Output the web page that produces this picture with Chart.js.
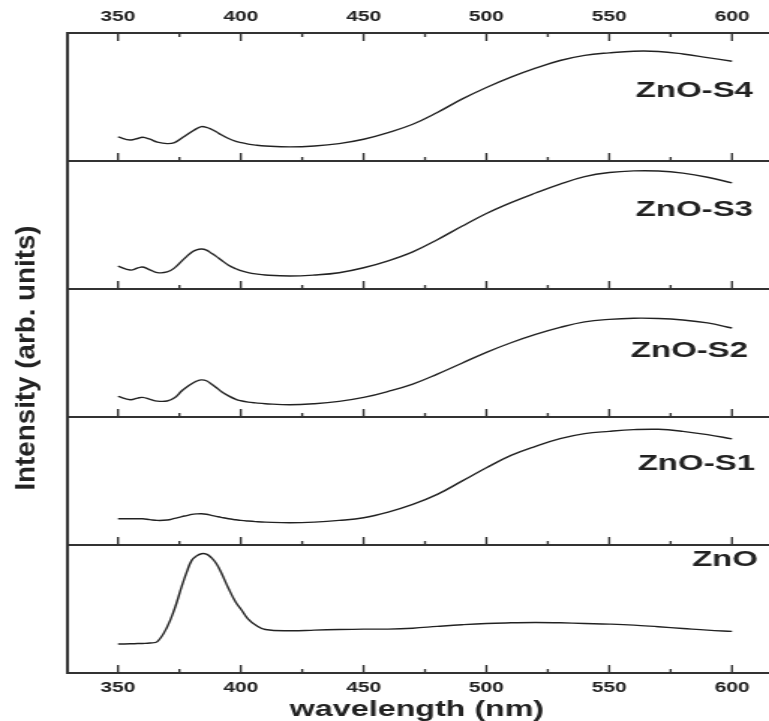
<!DOCTYPE html>
<html>
<head>
<meta charset="utf-8">
<script src="https://cdn.jsdelivr.net/npm/chart.js@4.4.0/dist/chart.umd.min.js"></script>
<style>
  html, body { margin: 0; padding: 0; background: #fff; overflow: hidden; }
  #chart { display: block; }
</style>
</head>
<body>
<!-- the source figure is stretched sideways, so the canvas is drawn narrow and widened by css -->
<canvas id="chart" width="513" height="721" style="width:769px;height:721px"></canvas>
<script>
// wavelength grid (nm), shared by the five spectra
var wavelengths = [350, 355, 358, 360, 363, 366, 370, 373, 376, 378, 380, 382, 384, 386, 388, 390, 392, 395, 398, 400,
    403, 406, 410, 420, 430, 440, 450, 460, 470, 480, 490, 500, 510, 520, 530, 540, 550, 560, 570, 580, 590, 600];

// PL intensity, as % of the panel height
var znoPure = [22.6, 22.8, 23, 23.1, 23.4, 24.5, 36, 50, 68, 79, 88, 91.5, 93.2, 92.8, 90.1, 85.5, 78.5, 66, 55, 50,
    42, 37.5, 34, 33, 33.5, 34, 34.3, 34.3, 35, 36.4, 37.7, 38.7, 39.2, 39.5, 39.2, 38.7, 38.2, 37.4, 36.1, 34.8, 33.5, 32.5];
var znoS1 = [20.5, 20.5, 20.5, 20.5, 19.8, 19.2, 19.5, 20.8, 22.2, 23, 23.9, 24.3, 24.4, 24, 23.2, 22.4, 21.6, 20.5, 19.7, 19.2,
    18.7, 18.3, 17.9, 17.4, 17.9, 19.2, 21.3, 25.7, 31.7, 39.5, 49.9, 60.3, 70, 77.1, 83.1, 87, 88.8, 90.1, 90.4, 88.8, 86.2, 82.9];
var znoS2 = [16.1, 13.5, 14.8, 15.3, 13.8, 12.4, 12.5, 15, 20.5, 23.5, 26, 28, 29, 28.3, 25.8, 23, 20, 16.5, 13.8, 12.7,
    11.6, 11, 10.4, 9.6, 10.4, 12.2, 15.3, 20, 25.7, 33.5, 42, 50.5, 58, 64.5, 70, 74.3, 76.3, 77.2, 77, 75.8, 73.5, 69.5];
var znoS3 = [17.9, 14.8, 16.4, 17.2, 15, 12.8, 13.3, 16.5, 22, 25.5, 28.8, 30.6, 31.2, 30.3, 28, 25.5, 22.6, 18.6, 15.8, 14.3,
    12.8, 11.8, 10.9, 10.1, 10.9, 12.7, 16.6, 22, 29, 38.5, 49, 59, 67.5, 75, 82, 87.8, 91, 92.3, 92.2, 90.5, 87.3, 82.9];
var znoS4 = [18.8, 16.4, 17.6, 18.5, 17, 14.8, 13.6, 14.4, 18, 20.5, 23, 25.3, 26.9, 26.3, 24.8, 22.8, 20.5, 17.6, 15.4, 14.4,
    13.2, 12.4, 11.7, 11, 11.7, 13.6, 17, 22.2, 28.7, 37.9, 48.3, 57.4, 65.5, 72.5, 78.5, 82.5, 84.5, 85.8, 85.6, 83.6, 80.8, 77.9];

// panels from bottom to top
var panelNames = ['ZnO', 'ZnO-S1', 'ZnO-S2', 'ZnO-S3', 'ZnO-S4'];
var panelSeries = [znoPure, znoS1, znoS2, znoS3, znoS4];

var xTickLabels = [350, 400, 450, 500, 550, 600];
var xTitle = 'wavelength (nm)';
var yTitle = 'Intensity (arb. units)';

// layout (page px / panel %), kept apart from the data
var STRETCH = 769 / 513;
var PANEL = 100;
var labelSpots = [
    { right: 758, level: 88 },
    { right: 755, level: 63 },
    { right: 748, level: 52 },
    { right: 753, level: 62 },
    { right: 753, level: 55 }
];
var FONT = '"Liberation Sans", Arial, sans-serif';
var INK = '#222';

var datasets = panelSeries.map(function (vals, k) {
    return {
        label: panelNames[k],
        data: wavelengths.map(function (w, i) { return { x: w, y: vals[i] + k * PANEL }; }),
        borderColor: INK,
        borderWidth: 1.4,
        pointRadius: 0,
        fill: false,
        tension: 0.4
    };
});

var decorations = {
    id: 'decorations',
    afterDraw: function (chart) {
        var ctx = chart.ctx;
        var xs = chart.scales.x;
        var ys = chart.scales.y;
        var area = chart.chartArea;
        ctx.save();

        // inward tick marks: major every 50 nm, minor every 25 nm
        ctx.strokeStyle = '#333';
        ctx.lineWidth = 1.4;
        for (var v = 350; v <= 600; v += 25) {
            var px = xs.getPixelForValue(v);
            var len = v % 50 === 0 ? 8 : 4;
            ctx.beginPath();
            ctx.moveTo(px, area.top);
            ctx.lineTo(px, area.top + len);
            for (var k = 0; k < panelNames.length; k++) {
                var py = ys.getPixelForValue(k * PANEL);
                ctx.moveTo(px, py);
                ctx.lineTo(px, py - len);
            }
            ctx.stroke();
        }

        // sample names
        ctx.fillStyle = INK;
        ctx.font = 'bold 22px ' + FONT;
        ctx.textAlign = 'right';
        ctx.textBaseline = 'middle';
        panelNames.forEach(function (name, k) {
            var spot = labelSpots[k];
            ctx.fillText(name, spot.right / STRETCH, ys.getPixelForValue(k * PANEL + spot.level));
        });

        // axis titles
        ctx.textAlign = 'center';
        ctx.font = 'bold 21.5px ' + FONT;
        ctx.fillText(xTitle, 417 / STRETCH, 710);

        ctx.translate(27 / STRETCH, 358);
        ctx.rotate(-Math.PI / 2);
        ctx.scale(1.5, 1);
        ctx.font = 'bold 18.5px ' + FONT;
        ctx.fillText(yTitle, 0, 0);
        ctx.restore();
    }
};

function fixedHeight(h) { return function (scale) { scale.height = h; }; }

var xLeft = 350 - (118 - 68) / 2.456;
var xRight = 600 + (769 - 732) / 2.456;

var tickFont = { family: FONT, size: 14, weight: 'bold' };

var chart = new Chart(document.getElementById('chart'), {
    type: 'line',
    data: { datasets: datasets },
    plugins: [decorations],
    options: {
        responsive: false,
        devicePixelRatio: 1,
        animation: false,
        layout: { padding: 0 },
        plugins: { legend: { display: false }, tooltip: { enabled: false } },
        scales: {
            x: {
                type: 'linear',
                position: 'bottom',
                min: xLeft,
                max: xRight,
                afterFit: fixedHeight(48),
                afterBuildTicks: function (scale) {
                    scale.ticks = xTickLabels.map(function (v) { return { value: v }; });
                },
                grid: { display: false, drawTicks: false },
                border: { display: true, color: '#333', width: 2 },
                ticks: { color: INK, font: tickFont, padding: 7, maxRotation: 0 }
            },
            x2: {
                type: 'linear',
                position: 'top',
                min: xLeft,
                max: xRight,
                afterFit: fixedHeight(33),
                afterBuildTicks: function (scale) {
                    scale.ticks = xTickLabels.map(function (v) { return { value: v }; });
                },
                grid: { display: false, drawTicks: false },
                border: { display: true, color: '#333', width: 2 },
                ticks: { color: INK, font: tickFont, padding: 7, maxRotation: 0 }
            },
            y: {
                type: 'linear',
                position: 'left',
                min: 0,
                max: PANEL * panelNames.length,
                afterFit: function (scale) { scale.width = 68 / STRETCH; },
                ticks: { display: false, stepSize: PANEL },
                grid: { display: true, drawTicks: false, color: '#333', lineWidth: 2 },
                border: { display: true, color: '#333', width: 2 }
            }
        }
    }
});
</script>
</body>
</html>
